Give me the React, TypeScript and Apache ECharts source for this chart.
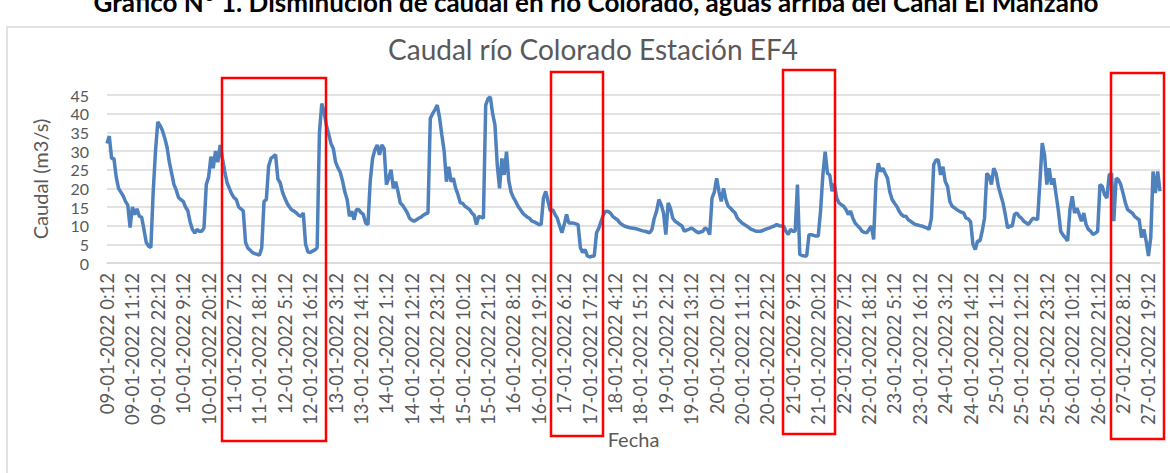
import React, { useEffect, useRef } from "react";
import * as echarts from "echarts";

// Hourly flow (m3/s), starting 09-01-2022 0:12, one value per hour
const caudal: number[] = [
  32, 34, 28, 28, 23, 20, 19, 18, 16.5, 15.5,
  9.5, 15, 13, 14.5, 12.5, 12.3, 9, 5.5, 4.5, 4.2,
  19, 30, 37.8, 36.8, 35.5, 33.5, 31, 27, 24, 21,
  19.5, 17.5, 17, 16.5, 15, 14, 11, 9, 8, 9,
  8.5, 8.5, 9.4, 21, 23, 28.5, 25.4, 30, 27, 31.6,
  28, 24.5, 21.5, 20, 18.5, 17.5, 17, 15, 14.5, 13.9,
  5.5, 4, 3.4, 2.8, 2.5, 2.3, 2.1, 4, 16.5, 17,
  26, 28, 28.5, 29, 22.5, 21.5, 19, 17.4, 16, 15,
  14.2, 13.9, 13.4, 12.8, 12.5, 13.4, 5, 3, 2.8, 3.2,
  3.5, 4.1, 35, 42.7, 40.5, 36.9, 34.5, 32, 30.7, 27,
  25.5, 24.3, 22, 19, 17, 12.5, 13.9, 11.6, 14.3, 14.3,
  13.5, 13, 10.7, 10.3, 22, 28, 30.3, 31.6, 29, 31.6,
  30.7, 21, 22.7, 25, 20, 21.8, 19.2, 16.1, 15.5, 14.5,
  13.5, 12, 11.5, 11.2, 11.6, 12, 12.3, 12.8, 13.2, 13.4,
  38.7, 40, 41, 42.3, 39, 34.3, 30, 21.8, 25.8, 21.8,
  22.7, 20, 18.3, 16.1, 16, 15.2, 14.8, 14.3, 13.4, 12.8,
  10.3, 12.5, 12.3, 12, 42.3, 44, 44.5, 40, 37, 26.3,
  20, 28, 23.6, 29.8, 22, 19, 17.5, 16.5, 15.2, 14.3,
  13.4, 12.8, 12.3, 12, 11.2, 11, 10.7, 10.3, 10.3, 17.4,
  19.2, 16.5, 13.9, 14.3, 13, 12, 10, 8.1, 10.3, 13,
  10.7, 10.7, 10.7, 10.5, 10.3, 4.1, 2.8, 3.6, 1.9, 1.6,
  1.8, 1.9, 8.1, 9.4, 11.2, 13, 13.9, 13.8, 13.4, 12.5,
  12, 11.6, 10.8, 10.3, 9.9, 9.7, 9.5, 9.4, 9.3, 9.2,
  9, 8.8, 8.6, 8.5, 8.3, 8.1, 9, 12, 13.9, 17,
  15.6, 13.4, 7.6, 16.1, 14.7, 12, 11.2, 10.8, 10.3, 9.9,
  8.5, 8.8, 9, 9.4, 9, 8.5, 8.1, 8.3, 8.5, 9.4,
  9, 7.6, 17.4, 19, 22.7, 19.2, 16.5, 20, 17, 15.2,
  14.7, 14, 13.4, 12, 11.3, 10.7, 10.3, 9.9, 9.5, 9,
  8.8, 8.5, 8.5, 8.5, 8.7, 9, 9.2, 9.4, 9.7, 9.9,
  10.3, 10, 9.9, 9.9, 8.5, 7.6, 9, 8.5, 8.5, 21,
  2.3, 2, 1.9, 1.9, 7.6, 7.6, 7.4, 7.2, 7.2, 13.9,
  23.6, 29.8, 24, 23.6, 19.2, 21.2, 17.4, 16.1, 15.6, 15.2,
  14.3, 13, 13.9, 12, 10.7, 10, 9.4, 8.5, 8.2, 8.1,
  9, 9.9, 6.3, 22, 26.7, 24.5, 25.4, 24, 22.7, 19,
  17, 16, 15.2, 13.9, 13, 12.5, 12.5, 11.6, 11.2, 10.7,
  10.3, 10.2, 10, 9.9, 9.6, 9.4, 9, 12, 26.3, 27.6,
  27.6, 23.6, 25.8, 21.8, 20.5, 16.5, 15.2, 14.8, 14.3, 13.9,
  13.6, 13.4, 12, 11.8, 11, 5, 3.6, 5.9, 5.9, 8.5,
  12, 24, 23.2, 21, 25.4, 24, 20.5, 18.3, 16.1, 13,
  9.4, 9.9, 9.9, 13, 13.4, 12.5, 12, 11.2, 10.8, 10.3,
  11.2, 12, 11.8, 11.6, 21.8, 32.1, 29, 21, 25.4, 21,
  22.7, 18.3, 14, 8.5, 7.5, 6.8, 5.9, 14.3, 17.9, 13.4,
  14.7, 13, 11.2, 13.4, 10.3, 9, 8.5, 7.6, 8, 8.5,
  21, 20.5, 18.3, 17.4, 23.6, 24, 11.2, 22.7, 22.3, 21,
  18.7, 16.1, 14.3, 13.8, 13.4, 12.5, 12, 11.6, 6.8, 9,
  5.9, 1.9, 6.8, 24.5, 18.7, 24.5, 19.2,
];

// Category labels: one per hourly reading
const firstDay = 9;
const monthYear = "01-2022";
const minuteMark = "12";
const fechas: string[] = caudal.map((_, i) => {
  const day = firstDay + Math.floor(i / 24);
  const hour = i % 24;
  return `${String(day).padStart(2, "0")}-${monthYear} ${hour}:${minuteMark}`;
});

const yTicks = [0, 5, 10, 15, 20, 25, 30, 35, 40, 45];

const topTitle =
  "Gráfico N° 1. Disminución de caudal en río Colorado, aguas arriba del Canal El Manzano";
const chartTitle = "Caudal río Colorado Estación EF4";

const FONT = "Lato, 'Open Sans', sans-serif";
const GRAY = "#595959";

export default function App() {
  const ref = useRef<HTMLDivElement>(null);
  useEffect(() => {
    if (!ref.current) return;
    const chart = echarts.init(ref.current, undefined, { renderer: "svg" });
    const redRect = (x1: number, y1: number, x2: number, y2: number) => ({
      type: "rect",
      shape: { x: x1, y: y1, width: x2 - x1, height: y2 - y1 },
      style: { fill: "none", stroke: "#ff0000", lineWidth: 2.5 },
      z: 100,
    });
    chart.setOption({
      animation: false,
      backgroundColor: "#ffffff",
      textStyle: { fontFamily: FONT },
      grid: { left: 107, right: 10, top: 95, bottom: 210 },
      xAxis: {
        type: "category",
        data: fechas,
        boundaryGap: false,
        name: "Fecha",
        nameLocation: "middle",
        nameGap: 166,
        nameTextStyle: { color: GRAY, fontSize: 20, fontFamily: FONT },
        axisLine: { show: true, lineStyle: { color: "#d9d9d9", width: 1.5 } },
        axisTick: { show: false },
        axisLabel: {
          interval: 10,
          rotate: 90,
          color: GRAY,
          fontSize: 18.5,
          fontFamily: FONT,
          margin: 10,
        },
      },
      yAxis: {
        type: "value",
        min: yTicks[0],
        max: yTicks[yTicks.length - 1],
        interval: 5,
        name: "Caudal (m3/s)",
        nameLocation: "middle",
        nameRotate: 90,
        nameGap: 57,
        nameTextStyle: { color: GRAY, fontSize: 20, fontFamily: FONT },
        axisLine: { show: false },
        axisTick: { show: false },
        axisLabel: {
          color: GRAY,
          fontSize: 16,
          lineHeight: 16,
          fontFamily: FONT,
          margin: 18,
          showMinLabel: true,
          showMaxLabel: true,
        },
        splitLine: { lineStyle: { color: "#d9d9d9", width: 1.5 } },
      },
      series: [
        {
          type: "line",
          data: caudal,
          symbol: "none",
          lineStyle: { color: "#4f81bd", width: 3.5 },
          itemStyle: { color: "#4f81bd" },
        },
      ],
      graphic: [
        {
          type: "rect",
          shape: { x: 7, y: 27, width: 1200, height: 500 },
          style: { fill: "none", stroke: "#d9d9d9", lineWidth: 1.5 },
          z: 0,
        },
        {
          type: "text",
          x: 596,
          y: 2,
          style: {
            text: topTitle,
            fontFamily: FONT,
            fontWeight: "bold",
            fontSize: 26,
            fill: "#000000",
            align: "center",
            verticalAlign: "middle",
          },
        },
        {
          type: "text",
          x: 593,
          y: 49,
          style: {
            text: chartTitle,
            fontFamily: FONT,
            fontSize: 28,
            fill: GRAY,
            align: "center",
            verticalAlign: "middle",
          },
        },
        redRect(222, 78, 326, 441),
        redRect(551, 72, 603, 436),
        redRect(783, 70, 835, 434),
        redRect(1111, 73, 1164, 439),
      ],
    });
    return () => chart.dispose();
  }, []);
  return (
    <div
      ref={ref}
      style={{ position: "fixed", left: 0, top: 0, width: 1170, height: 473 }}
    />
  );
}
